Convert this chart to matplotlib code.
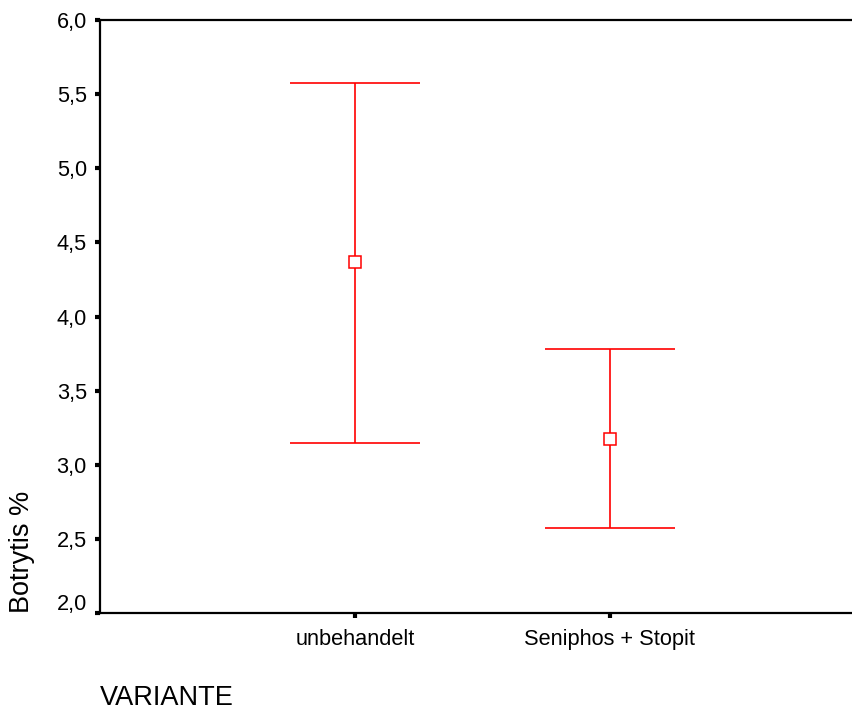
import numpy as np
import matplotlib
matplotlib.use('Agg')
import matplotlib.pyplot as plt
from matplotlib.transforms import ScaledTranslation

plt.rcParams['font.family'] = ['Liberation Sans', 'DejaVu Sans']

# dados (media e intervalo de confianca)
varianten = ['unbehandelt', 'Seniphos + Stopit']
mittel = [4.365, 3.176]
obere = [5.574, 3.784]
untere = [3.149, 2.574]

y_ticks = [2.0, 2.5, 3.0, 3.5, 4.0, 4.5, 5.0, 5.5, 6.0]
y_labels = ['2,0', '2,5', '3,0', '3,5', '4,0', '4,5', '5,0', '5,5', '6,0']

vermelho = '#ff0000'

fig = plt.figure(figsize=(8.53, 7.13), dpi=100)
# eixo vai alem da borda direita, como no original
ax = fig.add_axes([100/853, 100/713, 765/853, 593/713])

x = np.arange(1, len(varianten) + 1)
meia = 0.255

ax.vlines(x, untere, obere, color=vermelho, lw=1.2)
ax.hlines(obere, x - meia, x + meia, color=vermelho, lw=1.2)
ax.hlines(untere, x - meia, x + meia, color=vermelho, lw=1.2)
ax.plot(x, mittel, 's', ms=8.5, mfc='white', mec=vermelho, mew=1.1, ls='none')

ax.set_xlim(0, 3)
ax.set_ylim(2.0, 6.0)

ax.set_xticks(x)
ax.set_xticklabels(varianten, fontsize=15.7)
ax.set_yticks(y_ticks)
ax.set_yticklabels(y_labels, fontsize=15.7)

ax.tick_params(axis='both', direction='out', length=3.5, width=3, color='black')
ax.tick_params(axis='x', pad=8)
ax.tick_params(axis='y', pad=6)

for s in ['left', 'top', 'bottom']:
    ax.spines[s].set_linewidth(1.6)
ax.spines['right'].set_visible(False)

# rotulo 2,0 um pouco acima do tick
fig.canvas.draw()
lab0 = ax.get_yticklabels()[0]
lab0.set_transform(lab0.get_transform() + ScaledTranslation(0, 0.11, fig.dpi_scale_trans))

fig.text(22/853, 1 - 613/713, 'Botrytis %', rotation=90, fontsize=19.5,
         ha='center', va='bottom')
fig.text(100/853, 1 - 705/713, 'VARIANTE', fontsize=19.5, ha='left', va='baseline')

fig.savefig('out.png', dpi=100)
